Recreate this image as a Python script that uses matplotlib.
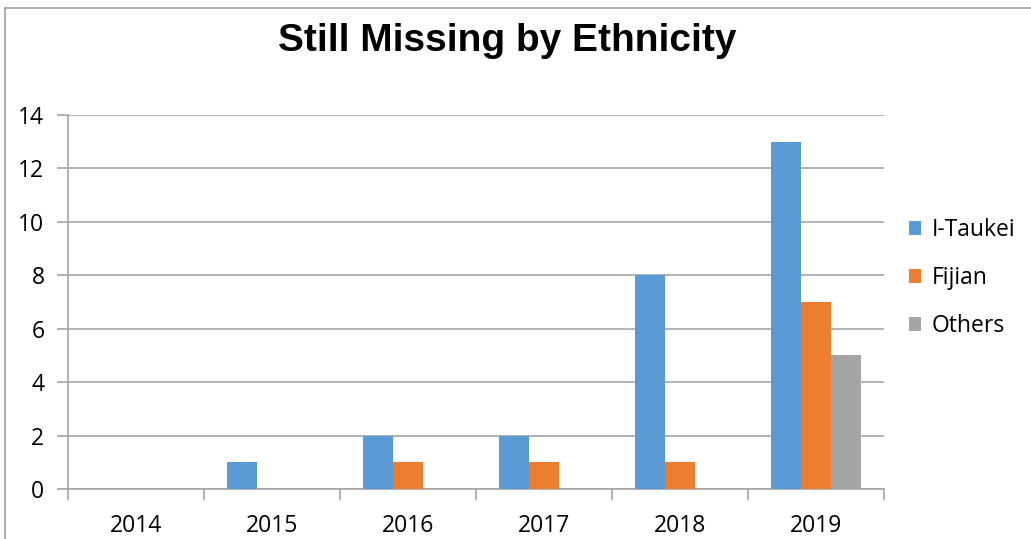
import matplotlib
matplotlib.use("Agg")
import matplotlib.pyplot as plt
import numpy as np
from matplotlib.lines import Line2D

years = ["2014", "2015", "2016", "2017", "2018", "2019"]
series_names = ["I-Taukei", "Fijian", "Others"]
itaukei = [0, 1, 2, 2, 8, 13]
fijian = [0, 0, 1, 1, 1, 7]
others = [0, 0, 0, 0, 0, 5]
colors = ["#5B9BD5", "#ED7D31", "#A5A5A5"]

fig = plt.figure(figsize=(10.31, 5.39), dpi=100)
ax = fig.add_axes([68/1031, 1-489/539, (884-68)/1031, (489-115)/539])

x = np.arange(len(years))
w = 0.22
for i, (vals, name, c) in enumerate(zip([itaukei, fijian, others], series_names, colors)):
    ax.bar(x + (i-1)*w, vals, width=w, color=c, label=name, zorder=3)

ax.set_xlim(-0.5, len(years)-0.5)
ax.set_ylim(0, 14)
ax.set_yticks(range(0, 15, 2))
ax.yaxis.grid(True, color="#A6A6A6", linewidth=1.2, zorder=0)
ax.set_axisbelow(True)

# category boundary ticks
ax.set_xticks(np.arange(-0.5, len(years), 1.0))
ax.set_xticklabels([])
ax.set_xticks(x, minor=True)
ax.set_xticklabels(years, minor=True)
ax.tick_params(axis="x", which="major", length=8, width=1.2, color="#A6A6A6", direction="out")
ax.tick_params(axis="x", which="minor", length=0, pad=18, labelsize=16.5)
ax.tick_params(axis="y", length=8, width=1.2, color="#A6A6A6", pad=9, labelsize=16.5)
for lbl in ax.get_xticklabels(minor=True) + ax.get_yticklabels():
    lbl.set_family("Open Sans")

for s in ["top", "right"]:
    ax.spines[s].set_visible(False)
for s in ["left", "bottom"]:
    ax.spines[s].set_color("#A6A6A6")
    ax.spines[s].set_linewidth(1.2)

fig.text(507/1031, 1-41/539, "Still Missing by Ethnicity", ha="center", va="center",
         fontsize=28, fontweight="bold", family="Liberation Sans")

leg = fig.legend(loc="center left", bbox_to_anchor=(888/1031, 1-278/539), frameon=False,
                 prop={"family": "Open Sans", "size": 16.5}, handlelength=0.55, handleheight=0.55,
                 handletextpad=0.45, labelspacing=1.05)

# figure border (top and left)
fig.add_artist(Line2D([5/1031, 5/1031], [0, 1-8/539], color="#A0A0A0", linewidth=1.2))
fig.add_artist(Line2D([5/1031, 1], [1-8/539, 1-8/539], color="#A0A0A0", linewidth=1.2))

fig.savefig("out.png", dpi=100)
